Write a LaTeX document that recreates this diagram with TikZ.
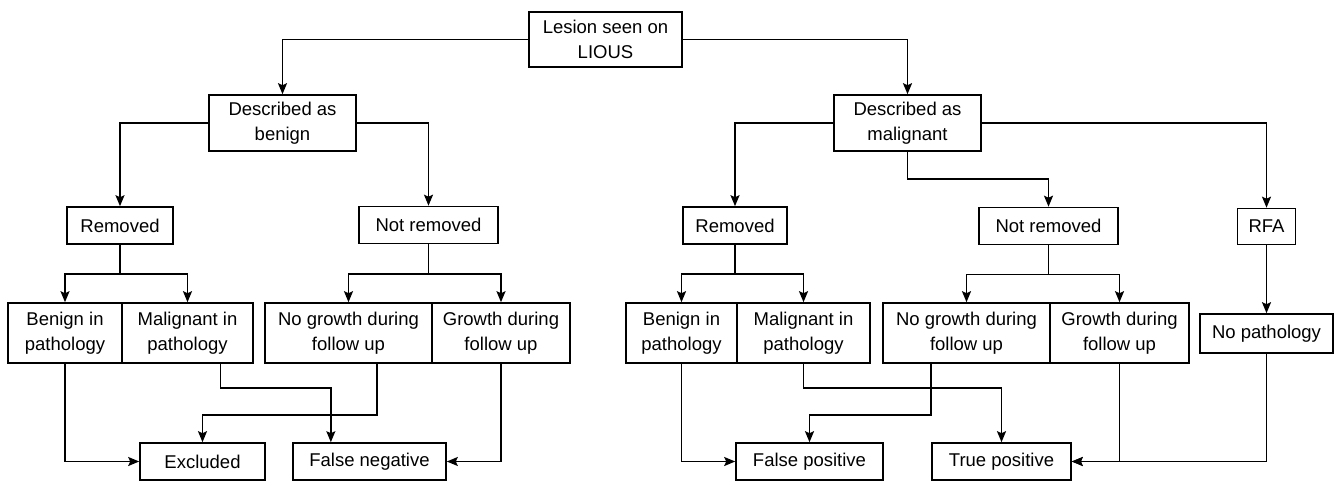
\documentclass[tikz,border=0pt]{standalone}
\usepackage{fontspec}
\setmainfont{Liberation Sans}
\usetikzlibrary{arrows.meta,calc}
\tikzset{
  box/.style={draw, line width=1.6pt, align=center, inner sep=0pt,
    font=\fontsize{18.5}{25}\selectfont},
  arr/.style={line width=1.6pt, -{Stealth[length=11pt,width=9pt,inset=2pt]}},
  ln/.style={line width=1.6pt}
}
\begin{document}
\begin{tikzpicture}[x=1pt,y=-1pt]
\useasboundingbox (0,0) rectangle (1338,482);
% top levels
\node[box, minimum width=153pt, minimum height=55pt] (lesion) at (605.5,39.5) {Lesion seen on\\LIOUS};
\node[box, minimum width=147pt, minimum height=56pt] (benign) at (282.5,123) {Described as\\benign};
\node[box, minimum width=147pt, minimum height=56pt] (malig) at (907.5,123) {Described as\\malignant};
\node[box, minimum width=106pt, minimum height=37pt] (remB) at (120,225.5) {Removed};
\node[box, minimum width=139pt, minimum height=37pt] (notB) at (428.5,225) {Not removed};
\node[box, minimum width=104pt, minimum height=37pt] (remM) at (735,225.5) {Removed};
\node[box, minimum width=139pt, minimum height=37pt] (notM) at (1048.5,226) {Not removed};
\node[box, minimum width=58pt, minimum height=36pt] (rfa) at (1266.5,226.5) {RFA};
% outcome boxes
\node[box, minimum width=114pt, minimum height=60pt] (benB) at (65,333) {Benign in\\pathology};
\node[box, minimum width=131pt, minimum height=60pt] (malB) at (187.5,333) {Malignant in\\pathology};
\node[box, minimum width=167pt, minimum height=60pt] (noB) at (348.5,333) {No growth during\\follow up};
\node[box, minimum width=138pt, minimum height=60pt] (groB) at (501,333) {Growth during\\follow up};
\node[box, minimum width=111pt, minimum height=60pt] (benM) at (681.5,333) {Benign in\\pathology};
\node[box, minimum width=133pt, minimum height=60pt] (malM) at (803.5,333) {Malignant in\\pathology};
\node[box, minimum width=167pt, minimum height=60pt] (noM) at (966.5,333) {No growth during\\follow up};
\node[box, minimum width=139pt, minimum height=60pt] (groM) at (1119.5,333) {Growth during\\follow up};
\node[box, minimum width=133pt, minimum height=39pt] (nopath) at (1266.5,333.5) {No pathology};
% final boxes
\node[box, minimum width=125pt, minimum height=37pt] (excl) at (202.5,461.5) {Excluded};
\node[box, minimum width=153pt, minimum height=37pt] (fneg) at (369.5,461.5) {False negative};
\node[box, minimum width=147pt, minimum height=37pt] (fpos) at (809.5,461.5) {False positive};
\node[box, minimum width=139pt, minimum height=37pt] (tpos) at (1001.5,461.5) {True positive};
% arrows
\draw[arr] (lesion.west) -| (benign.north);
\draw[arr] (lesion.east) -| (malig.north);
\draw[arr] (benign.west) -| (remB.north);
\draw[arr] (benign.east) -| (notB.north);
\draw[arr] (malig.west) -| (remM.north);
\draw[arr] (malig.south) -- ++(0,27) -| (notM.north);
\draw[arr] (malig.east) -| (rfa.north);
\draw[arr] (rfa.south) -- (nopath.north);
\draw[ln] (remB.south) -- ++(0,29) coordinate (sB1);
\draw[ln] (notB.south) -- ++(0,29.5) coordinate (sB2);
\draw[ln] (remM.south) -- ++(0,29) coordinate (sM1);
\draw[ln] (notM.south) -- ++(0,29) coordinate (sM2);
\foreach \s/\a/\b in {sB1/benB/malB, sB2/noB/groB, sM1/benM/malM, sM2/noM/groM}{
  \draw[arr] (\s) -| (\a.north);
  \draw[arr] (\s) -| (\b.north);
}
\draw[arr] (benB.south) |- (excl.west);
\draw[arr] ($(malB.south west)!.75!(malB.south east)$) -- ++(0,24) -| ($(fneg.north west)!.25!(fneg.north east)$);
\draw[arr] ($(noB.south west)!.67!(noB.south east)$) -- ++(0,51) -| (excl.north);
\draw[arr] (groB.south) |- (fneg.east);
\draw[arr] (benM.south) |- (fpos.west);
\draw[arr] (malM.south) -- ++(0,24) -| (tpos.north);
\draw[arr] ($(noM.south west)!.29!(noM.south east)$) -- ++(0,51) -| (fpos.north);
\draw[arr] (groM.south) |- (tpos.east);
\draw[arr] (nopath.south) |- (tpos.east);
\end{tikzpicture}
\end{document}
